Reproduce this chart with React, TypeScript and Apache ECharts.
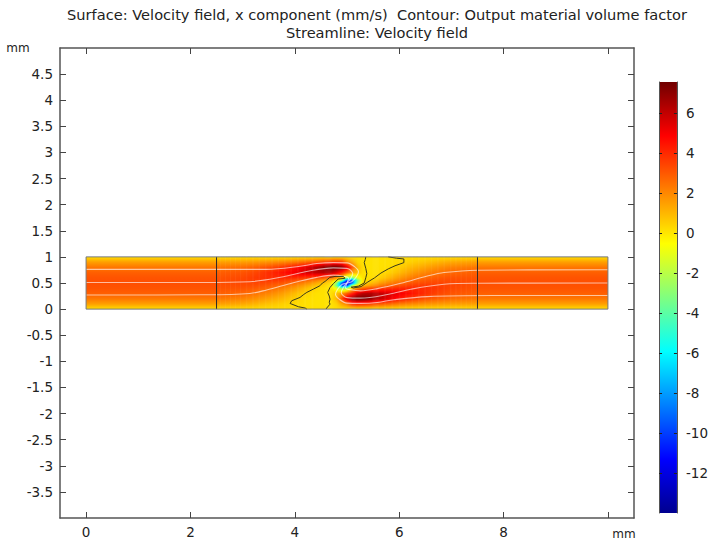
import React, { useEffect, useRef } from "react";
import * as echarts from "echarts";

const titleLine1 = "Surface: Velocity field, x component (mm/s)  Contour: Output material volume factor";
const titleLine2 = "Streamline: Velocity field";
const xTicks = [0, 2, 4, 6, 8, 10];
const xLabels = [0, 2, 4, 6, 8];
const yLabels = [-3.5, -3, -2.5, -2, -1.5, -1, -0.5, 0, 0.5, 1, 1.5, 2, 2.5, 3, 3.5, 4, 4.5];
const barTicks = [-12, -10, -8, -6, -4, -2, 0, 2, 4, 6];
const barMin = -14;
const barMax = 7.55;

// surface samples: one list per column, values at fieldRows (mm/s)
const fieldRows = [0, 0.1, 0.2, 0.3, 0.4, 0.45, 0.5, 0.55, 0.6, 0.7, 0.8, 0.9, 1];
const fieldCols = [0, 2.5, 3, 3.25, 3.5, 3.75, 4, 4.2, 4.4, 4.5, 4.6, 4.7, 4.8, 4.9, 5, 5.1, 5.2, 5.3, 5.4, 5.5, 5.6, 5.8, 6, 6.25, 6.5, 6.75, 7, 7.5, 10];
const fieldValues = [
  [0.2, 1.5, 2.35, 2.85, 3.1, 3.15, 3.2, 3.15, 3.1, 2.85, 2.35, 1.5, 0.2],
  [0.2, 1.5, 2.35, 2.85, 3.1, 3.15, 3.2, 3.15, 3.1, 2.85, 2.35, 1.5, 0.2],
  [0.2, 1.3, 2.1, 2.7, 3.1, 3.25, 3.35, 3.4, 3.35, 3.1, 2.55, 1.55, 0.2],
  [0.2, 1.05, 1.8, 2.4, 2.95, 3.2, 3.4, 3.55, 3.65, 3.4, 2.8, 1.65, 0.2],
  [0.2, 0.75, 1.4, 2.05, 2.7, 3.0, 3.3, 3.65, 3.9, 3.9, 3.15, 1.8, 0.2],
  [0.2, 0.5, 1.0, 1.55, 2.25, 2.65, 3.1, 3.55, 4.05, 4.45, 3.7, 2.0, 0.2],
  [0.2, 0.25, 0.5, 0.9, 1.6, 2.05, 2.6, 3.2, 3.95, 5.1, 4.5, 2.3, 0.2],
  [0.15, 0.12, 0.15, 0.4, 0.95, 1.45, 2.05, 2.8, 3.75, 5.6, 5.3, 2.7, 0.2],
  [0.1, 0.08, 0.1, 0.12, 0.35, 0.8, 1.35, 2.2, 3.5, 6.0, 6.2, 3.1, 0.2],
  [0.1, 0.08, 0.08, 0.1, 0.15, 0.45, 0.95, 1.8, 3.25, 6.2, 6.7, 3.4, 0.2],
  [0.1, 0.08, 0.08, 0.08, 0.1, 0.25, 0.6, 1.35, 3.0, 6.3, 7.2, 3.7, 0.2],
  [0.1, 0.1, 0.2, 0.15, 0.05, 0.0, 0.25, 0.95, 2.6, 6.1, 7.5, 3.9, 0.2],
  [0.15, 0.4, 1.0, 0.7, -1.0, -3.5, -3.0, 0.1, 1.9, 5.4, 7.55, 4.0, 0.2],
  [0.2, 1.4, 3.2, 1.6, -3.0, -9.5, -9.5, -2.5, 0.5, 4.2, 7.0, 3.8, 0.2],
  [0.2, 2.2, 5.4, 2.8, -2.5, -10, -13.8, -10, -2.5, 2.8, 5.4, 2.2, 0.2],
  [0.2, 3.8, 7.0, 4.2, 0.5, -2.5, -9.5, -9.5, -3.0, 1.6, 3.2, 1.4, 0.2],
  [0.2, 4.0, 7.55, 5.4, 1.9, 0.1, -3.0, -3.5, -1.0, 0.7, 1.0, 0.4, 0.15],
  [0.2, 3.9, 7.5, 6.1, 2.6, 0.95, 0.25, 0.0, 0.05, 0.15, 0.2, 0.1, 0.1],
  [0.2, 3.7, 7.2, 6.3, 3.0, 1.35, 0.6, 0.25, 0.1, 0.08, 0.08, 0.08, 0.1],
  [0.2, 3.4, 6.7, 6.2, 3.25, 1.8, 0.95, 0.45, 0.15, 0.1, 0.08, 0.08, 0.1],
  [0.2, 3.1, 6.2, 6.0, 3.5, 2.2, 1.35, 0.8, 0.35, 0.12, 0.1, 0.08, 0.1],
  [0.2, 2.7, 5.3, 5.6, 3.75, 2.8, 2.05, 1.45, 0.95, 0.4, 0.15, 0.12, 0.15],
  [0.2, 2.3, 4.5, 5.1, 3.95, 3.2, 2.6, 2.05, 1.6, 0.9, 0.5, 0.25, 0.2],
  [0.2, 2.0, 3.7, 4.45, 4.05, 3.55, 3.1, 2.65, 2.25, 1.55, 1.0, 0.5, 0.2],
  [0.2, 1.8, 3.15, 3.9, 3.9, 3.65, 3.3, 3.0, 2.7, 2.05, 1.4, 0.75, 0.2],
  [0.2, 1.65, 2.8, 3.4, 3.65, 3.55, 3.4, 3.2, 2.95, 2.4, 1.8, 1.05, 0.2],
  [0.2, 1.55, 2.55, 3.1, 3.35, 3.4, 3.35, 3.25, 3.1, 2.7, 2.1, 1.3, 0.2],
  [0.2, 1.5, 2.35, 2.85, 3.1, 3.15, 3.2, 3.15, 3.1, 2.85, 2.35, 1.5, 0.2],
  [0.2, 1.5, 2.35, 2.85, 3.1, 3.15, 3.2, 3.15, 3.1, 2.85, 2.35, 1.5, 0.2],
];

const streamA = [[0, 0.76], [2.2, 0.76], [3.46, 0.76], [4.1, 0.82], [4.42, 0.873], [4.74, 0.89], [5.0, 0.886], [5.15, 0.81], [5.22, 0.715], [5.18, 0.62], [5.09, 0.525], [5.0, 0.5], [4.91, 0.475], [4.82, 0.38], [4.78, 0.285], [4.85, 0.19], [5.0, 0.114], [5.26, 0.11], [5.58, 0.127], [5.9, 0.18], [6.54, 0.24], [7.8, 0.26], [10, 0.26]];
const streamB = [[0, 0.51], [2.2, 0.51], [3.14, 0.525], [3.78, 0.62], [4.2, 0.715], [4.74, 0.79], [5.0, 0.78], [5.11, 0.68], [5.06, 0.57], [5.0, 0.505], [4.94, 0.43], [4.89, 0.32], [5.0, 0.22], [5.26, 0.21], [5.8, 0.285], [6.22, 0.38], [6.86, 0.475], [7.5, 0.495], [10, 0.5]];
const streamC = [[0, 0.27], [2.2, 0.275], [3.14, 0.3], [3.46, 0.367], [3.97, 0.506], [4.42, 0.608], [4.74, 0.65], [4.93, 0.63], [5.03, 0.59], [5.0, 0.5], [4.97, 0.41], [5.07, 0.37], [5.26, 0.35], [5.58, 0.392], [6.03, 0.494], [6.54, 0.633], [6.86, 0.7], [7.5, 0.745], [10, 0.755]];

const contourLower = [[4.23, 0.0], [4.2, 0.02], [4.07, 0.045], [3.91, 0.108], [3.94, 0.16], [4.1, 0.224], [4.17, 0.28], [4.23, 0.32], [4.355, 0.383], [4.48, 0.447], [4.53, 0.5], [4.58, 0.53], [4.67, 0.607], [4.77, 0.626], [4.93, 0.626], [4.96, 0.59], [4.83, 0.575], [4.74, 0.49], [4.675, 0.415], [4.63, 0.32], [4.66, 0.25], [4.675, 0.19], [4.66, 0.13], [4.675, 0.095], [4.61, 0.019], [4.6, 0.0]];
const contourUpper = [[5.36, 1.0], [5.35, 0.95], [5.33, 0.89], [5.36, 0.78], [5.38, 0.68], [5.36, 0.6], [5.33, 0.5], [5.22, 0.44], [5.08, 0.42], [5.12, 0.405], [5.27, 0.43], [5.4, 0.52], [5.53, 0.6], [5.65, 0.69], [5.79, 0.77], [5.92, 0.83], [6.09, 0.89], [6.09, 0.96], [5.95, 0.975], [5.79, 1.0]];
const domainEdge = [[0, 0], [10, 0], [10, 1], [0, 1], [0, 0]];
const cutLeft = [[2.5, 0], [2.5, 1]];
const cutRight = [[7.5, 0], [7.5, 1]];

const jetPos = [0, 0.125, 0.375, 0.625, 0.875, 1];
const jetRgb = [[0, 0, 143], [0, 0, 255], [0, 255, 255], [255, 255, 0], [255, 0, 0], [112, 0, 0]];

function jet(v: number) {
  const f = Math.min(1, Math.max(0, (v - barMin) / (barMax - barMin)));
  let i = 0;
  while (i < jetPos.length - 2 && f > jetPos[i + 1]) i++;
  const t = (f - jetPos[i]) / (jetPos[i + 1] - jetPos[i]);
  const c = jetRgb[i].map((a, k) => Math.round(a + (jetRgb[i + 1][k] - a) * t));
  return `rgb(${c[0]},${c[1]},${c[2]})`;
}

function columnStops(vals: number[]) {
  const stops: { offset: number; color: string }[] = [];
  for (let r = fieldRows.length - 1; r > 0; r--) {
    for (let s = 0; s < 4; s++) {
      const t = s / 4;
      const y = fieldRows[r] + (fieldRows[r - 1] - fieldRows[r]) * t;
      stops.push({ offset: 1 - y, color: jet(vals[r] + (vals[r - 1] - vals[r]) * t) });
    }
  }
  stops.push({ offset: 1, color: jet(vals[0]) });
  return stops;
}

function renderField(params: any, api: any) {
  const i = api.value(2);
  const x0 = fieldCols[i];
  const x1 = fieldCols[i + 1];
  const [px0, pyTop] = api.coord([x0, 1]);
  const [px1, pyBot] = api.coord([x1, 0]);
  const a = fieldValues[i];
  const b = fieldValues[i + 1];
  const same = a.every((v, k) => v === b[k]);
  const n = same ? 1 : Math.max(1, Math.ceil((px1 - px0) / 1.3));
  const children: any[] = [];
  for (let k = 0; k < n; k++) {
    const t = (k + 0.5) / n;
    const vals = a.map((v, r) => v + (b[r] - v) * t);
    children.push({
      type: "rect",
      shape: {
        x: px0 + ((px1 - px0) * k) / n,
        y: pyTop,
        width: (px1 - px0) / n + (i === fieldCols.length - 2 && k === n - 1 ? 0 : 0.6),
        height: pyBot - pyTop,
      },
      style: { fill: new echarts.graphic.LinearGradient(0, 0, 0, 1, columnStops(vals)) },
      silent: true,
    });
  }
  return { type: "group", children };
}

function renderBar(params: any, api: any) {
  const [px0, pyTop] = api.coord([0, barMax]);
  const [px1, pyBot] = api.coord([1, barMin]);
  const stops = jetPos
    .map((p, i) => ({ offset: 1 - p, color: `rgb(${jetRgb[i].join(",")})` }))
    .reverse();
  return {
    type: "rect",
    shape: { x: px0, y: pyTop, width: px1 - px0, height: pyBot - pyTop },
    style: { fill: new echarts.graphic.LinearGradient(0, 0, 0, 1, stops) },
    silent: true,
  };
}

const FONT = "DejaVu Sans";
const TEXT = "#222";
const FRAME = { show: true, onZero: false, lineStyle: { color: "#555", width: 1.5 } };
const TICK = (vals: number[], len = 6) => ({
  show: true,
  inside: true,
  length: len,
  customValues: vals,
  lineStyle: { color: "#444", width: 1 },
});

function lineSeries(name: string, data: number[][], color: string, width: number, smooth: number | boolean, z: number) {
  return {
    name,
    type: "line",
    data,
    xAxisIndex: 0,
    yAxisIndex: 0,
    showSymbol: false,
    symbol: "none",
    smooth,
    silent: true,
    z,
    lineStyle: { color, width },
  };
}

export default function App() {
  const ref = useRef<HTMLDivElement>(null);
  useEffect(() => {
    const chart = echarts.init(ref.current!, null, { renderer: "svg" });
    chart.setOption({
      animation: false,
      backgroundColor: "#fff",
      textStyle: { fontFamily: FONT },
      grid: [
        { left: 60, right: 77, top: 48, bottom: 23 },
        { left: 659, right: 33, top: 82, bottom: 28 },
      ],
      xAxis: [
        {
          type: "value", gridIndex: 0, position: "bottom", min: -0.5, max: 10.5,
          axisLine: FRAME, splitLine: { show: false }, axisTick: TICK(xTicks),
          axisLabel: { show: true, customValues: xLabels, color: TEXT, fontSize: 13.5, fontFamily: FONT, margin: 7 },
        },
        {
          type: "value", gridIndex: 0, position: "top", min: -0.5, max: 10.5,
          axisLine: FRAME, splitLine: { show: false }, axisTick: TICK(xTicks),
          axisLabel: { show: false },
        },
        { type: "value", gridIndex: 1, min: 0, max: 1, show: false },
      ],
      yAxis: [
        {
          type: "value", gridIndex: 0, position: "left", min: -4, max: 5,
          axisLine: FRAME, splitLine: { show: false }, axisTick: TICK(yLabels),
          axisLabel: { show: true, customValues: yLabels, color: TEXT, fontSize: 13.5, fontFamily: FONT, margin: 7 },
        },
        {
          type: "value", gridIndex: 0, position: "right", min: -4, max: 5,
          axisLine: FRAME, splitLine: { show: false }, axisTick: TICK(yLabels),
          axisLabel: { show: false },
        },
        {
          type: "value", gridIndex: 1, position: "right", min: barMin, max: barMax, z: 5,
          axisLine: { show: true, onZero: false, lineStyle: { color: "#555", width: 1 } },
          splitLine: { show: false }, axisTick: { ...TICK(barTicks, 3), lineStyle: { color: "#222", width: 1 } },
          axisLabel: { show: true, customValues: barTicks, color: TEXT, fontSize: 13.5, fontFamily: FONT, margin: 9 },
        },
        {
          type: "value", gridIndex: 1, position: "left", min: barMin, max: barMax, z: 5,
          axisLine: { show: true, onZero: false, lineStyle: { color: "#555", width: 1 } },
          splitLine: { show: false }, axisTick: { ...TICK(barTicks, 3), lineStyle: { color: "#222", width: 1 } },
          axisLabel: { show: false },
        },
      ],
      graphic: [
        { type: "text", x: 377, y: 14, style: { text: titleLine1, fill: TEXT, font: `14.6px '${FONT}'`, textAlign: "center", textVerticalAlign: "middle" } },
        { type: "text", x: 377, y: 32, style: { text: titleLine2, fill: TEXT, font: `14.6px '${FONT}'`, textAlign: "center", textVerticalAlign: "middle" } },
        { type: "text", x: 18, y: 48, style: { text: "mm", fill: TEXT, font: `12px '${FONT}'`, textAlign: "center", textVerticalAlign: "middle" } },
        { type: "text", x: 624, y: 534, style: { text: "mm", fill: TEXT, font: `12px '${FONT}'`, textAlign: "center", textVerticalAlign: "middle" } },
      ],
      series: [
        {
          name: "Velocity field, x component",
          type: "custom",
          xAxisIndex: 0,
          yAxisIndex: 0,
          coordinateSystem: "cartesian2d",
          clip: false,
          silent: true,
          z: 2,
          renderItem: renderField,
          encode: { x: 0, y: 1 },
          data: fieldCols.slice(0, -1).map((x, i) => [x, 0.5, i]),
        },
        {
          name: "Colour scale",
          type: "custom",
          xAxisIndex: 2,
          yAxisIndex: 2,
          coordinateSystem: "cartesian2d",
          clip: false,
          silent: true,
          z: 2,
          renderItem: renderBar,
          encode: { x: 0, y: 1 },
          data: [[0.5, 0]],
        },
        lineSeries("Streamline 1", streamA, "rgba(255,255,255,0.62)", 1.1, 0.35, 4),
        lineSeries("Streamline 2", streamB, "rgba(255,255,255,0.62)", 1.1, 0.35, 4),
        lineSeries("Streamline 3", streamC, "rgba(255,255,255,0.62)", 1.1, 0.35, 4),
        lineSeries("Contour lower", contourLower, "#3a3a1a", 1, false, 5),
        lineSeries("Contour upper", contourUpper, "#3a3a1a", 1, false, 5),
        lineSeries("Section left", cutLeft, "#2a2a2a", 1, false, 5),
        lineSeries("Section right", cutRight, "#2a2a2a", 1, false, 5),
        lineSeries("Domain", domainEdge, "#777", 1, false, 5),
      ],
    });
    return () => chart.dispose();
  }, []);
  return <div ref={ref} style={{ position: "absolute", left: 0, top: 0, width: 711, height: 541 }} />;
}
